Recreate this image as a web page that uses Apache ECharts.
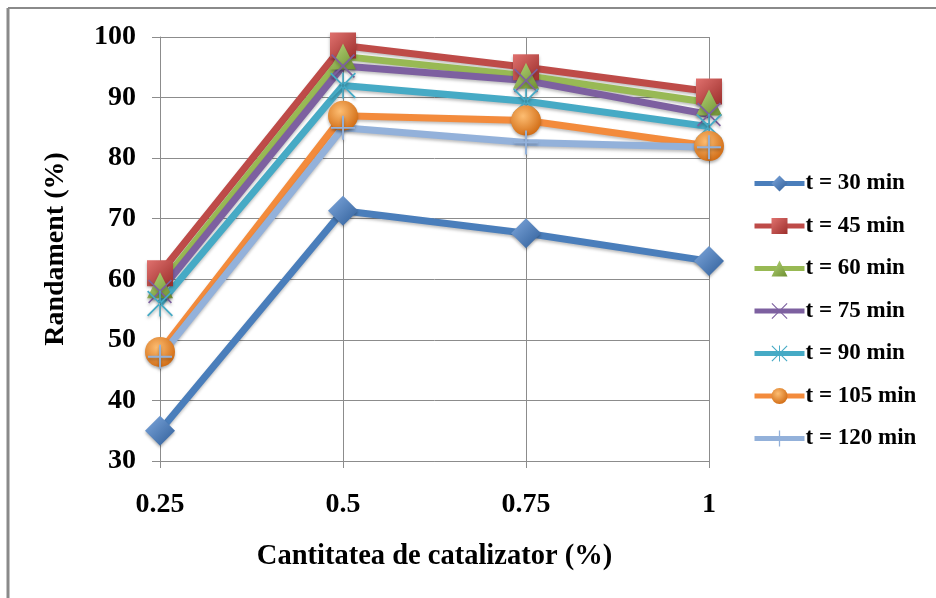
<!DOCTYPE html>
<html>
<head>
<meta charset="utf-8">
<script src="https://cdn.jsdelivr.net/npm/echarts@6/dist/echarts.min.js"></script>
<style>
  html, body { margin: 0; padding: 0; background: #fff; }
  #chart { width: 936px; height: 598px; }
</style>
</head>
<body>
<div id="chart"></div>
<script>
// Catalyst amount (%) on the category axis
const categories = ['0.25', '0.5', '0.75', '1'];

// Yield (%) for each reaction time
const t30  = [35, 71.3, 67.6, 63];
const t45  = [61, 98.6, 95, 91];
const t60  = [59, 96.8, 93.6, 89.2];
const t75  = [58, 95.2, 92.8, 87.2];
const t90  = [56, 92, 89.4, 85.2];
const t105 = [48, 87, 86.2, 82];
const t120 = [47.2, 85, 82.6, 81.8];

const seriesNames = ['t = 30 min', 't = 45 min', 't = 60 min', 't = 75 min',
                     't = 90 min', 't = 105 min', 't = 120 min'];
const seriesValues = [t30, t45, t60, t75, t90, t105, t120];

const yTicks = { min: 30, max: 100, step: 10 };

const FONT = '"Liberation Serif", "Times New Roman", serif';

// Marker shapes
const X_PATH = 'path://M1,0 L10,9 L19,0 L20,1 L11,10 L20,19 L19,20 L10,11 L1,20 L0,19 L9,10 L0,1 Z';
const STAR_PATH = 'path://M1,0 L10,9 L19,0 L20,1 L11,10 L20,19 L19,20 L10,11 L1,20 L0,19 L9,10 L0,1 Z M9.4,0 L9.4,20 L10.6,20 L10.6,0 Z';
const PLUS_PATH = 'path://M9.2,0 L10.8,0 L10.8,9.2 L20,9.2 L20,10.8 L10.8,10.8 L10.8,20 L9.2,20 L9.2,10.8 L0,10.8 L0,9.2 L9.2,9.2 Z';

function grad(c1, c2) {
  return new echarts.graphic.LinearGradient(0, 0, 1, 1, [
    { offset: 0, color: c1 }, { offset: 1, color: c2 }
  ]);
}

const styles = [
  { line: '#4A7EBB', symbol: 'diamond', size: 30, fill: grad('#7FA8DD', '#2F5E99') },
  { line: '#BE4B48', symbol: 'rect', size: 26, fill: grad('#E0716E', '#9C2F2C') },
  { line: '#98B954', symbol: 'triangle', size: 26, fill: grad('#B6D67A', '#6E8F30') },
  { line: '#7D60A0', symbol: X_PATH, size: 24, fill: '#7D60A0' },
  { line: '#46AAC5', symbol: STAR_PATH, size: 26, fill: '#46AAC5' },
  { line: '#F38B3C', symbol: 'circle', size: 30,
    fill: new echarts.graphic.RadialGradient(0.4, 0.35, 0.7, [
      { offset: 0, color: '#FDBD72' }, { offset: 1, color: '#D06A12' }
    ]) },
  { line: '#93B1DA', symbol: PLUS_PATH, size: 24, fill: '#93B1DA' }
];

const series = seriesNames.map((name, i) => ({
  name: name,
  type: 'line',
  data: seriesValues[i],
  symbol: styles[i].symbol,
  symbolSize: styles[i].size,
  lineStyle: {
    color: styles[i].line, width: 7,
    shadowColor: 'rgba(0,0,0,0.25)', shadowBlur: 3, shadowOffsetY: 2
  },
  itemStyle: {
    color: styles[i].fill,
    borderWidth: 0,
    shadowColor: 'rgba(0,0,0,0.3)', shadowBlur: 3, shadowOffsetY: 2
  },
  emphasis: { disabled: true },
  z: 2
}));

const chart = echarts.init(document.getElementById('chart'), null, { renderer: 'canvas' });

chart.setOption({
  animation: false,
  backgroundColor: '#ffffff',
  color: styles.map(s => s.line),
  grid: { left: 160, right: 227, top: 37, bottom: 137 },
  graphic: [
    { type: 'line', shape: { x1: 8, y1: 8, x2: 936, y2: 8 },
      style: { stroke: '#8a8a8a', lineWidth: 2 } },
    { type: 'line', shape: { x1: 8, y1: 8, x2: 8, y2: 598 },
      style: { stroke: '#8a8a8a', lineWidth: 3 } }
  ],
  legend: {
    orient: 'vertical',
    left: 752,
    top: 172,
    padding: 0,
    itemWidth: 50,
    itemHeight: 20,
    itemGap: 19.5,
    data: seriesNames,
    lineStyle: { width: 5 },
    textStyle: { fontFamily: FONT, fontWeight: 'bold', fontSize: 23, lineHeight: 20,
                 color: '#000', padding: [0, 0, 0, -4] }
  },
  xAxis: {
    type: 'category',
    data: categories,
    boundaryGap: false,
    name: 'Cantitatea de catalizator (%)',
    nameLocation: 'middle',
    nameGap: 81,
    nameTextStyle: { fontFamily: FONT, fontWeight: 'bold', fontSize: 28.5, color: '#000' },
    axisLine: { lineStyle: { color: '#8c8c8c', width: 1 } },
    axisTick: { show: true, length: 7, lineStyle: { color: '#8c8c8c' } },
    axisLabel: { fontFamily: FONT, fontWeight: 'bold', fontSize: 28, color: '#000', margin: 30 },
    splitLine: { show: true, lineStyle: { color: '#8c8c8c', width: 1 } }
  },
  yAxis: {
    type: 'value',
    min: yTicks.min,
    max: yTicks.max,
    interval: yTicks.step,
    name: 'Randament (%)',
    nameLocation: 'middle',
    nameRotate: 90,
    nameGap: 90,
    nameTextStyle: { fontFamily: FONT, fontWeight: 'bold', fontSize: 28, color: '#000' },
    axisLine: { show: true, lineStyle: { color: '#8c8c8c', width: 1 } },
    axisTick: { show: true, length: 8, lineStyle: { color: '#8c8c8c' } },
    axisLabel: { fontFamily: FONT, fontWeight: 'bold', fontSize: 28, color: '#000', margin: 24 },
    splitLine: { show: true, lineStyle: { color: '#8c8c8c', width: 1 } }
  },
  series: series
});
</script>
</body>
</html>
